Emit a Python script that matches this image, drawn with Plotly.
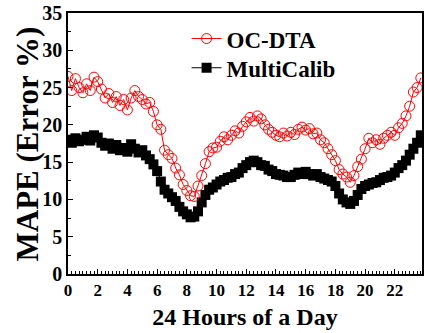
import plotly.graph_objects as go

hours = [i * 0.25 for i in range(96)]

oc_dta = [
    26.5, 24.6, 26.2, 25.0, 24.3, 25.5, 24.6, 26.4, 25.8, 24.8, 23.6, 24.2,
    23.0, 23.8, 22.6, 23.4, 22.0, 23.6, 24.6, 23.8, 23.4, 22.8, 23.0, 21.8,
    20.0, 19.4, 16.6, 16.0, 15.5, 14.2, 13.3, 12.0, 11.2, 10.5, 10.4, 11.8,
    13.2, 14.8, 16.4, 16.9, 17.0, 17.8, 18.4, 18.0, 18.6, 19.2, 18.9, 19.8,
    20.4, 21.0, 20.5, 21.2, 20.8, 20.0, 19.4, 19.0, 18.6, 18.4, 18.9, 18.5,
    19.0, 18.7, 19.4, 19.7, 19.3, 19.5, 18.8, 18.9, 18.0, 17.6, 16.8, 16.0,
    15.2, 14.0, 13.4, 13.0, 12.3, 13.2, 14.4, 15.4, 16.8, 18.2, 17.6, 18.0,
    17.4, 18.2, 18.6, 19.0, 18.6, 19.6, 20.2, 21.2, 22.5, 24.4, 25.0, 26.3,
]

multicalib = [
    18.0, 17.6, 18.2, 17.8, 18.0, 18.4, 17.9, 18.6, 18.3, 17.6, 17.2, 17.5,
    16.8, 17.3, 16.6, 16.9, 16.4, 17.4, 16.8, 16.3, 16.6, 15.9, 15.4, 14.7,
    13.8, 12.4, 11.3, 10.8, 10.3, 9.8, 9.0, 8.4, 8.0, 7.6, 7.7, 8.4,
    9.6, 10.6, 11.3, 11.6, 12.0, 12.4, 12.6, 12.9, 13.0, 13.4, 13.6, 14.2,
    14.6, 15.0, 15.2, 15.0, 14.6, 14.5, 14.0, 13.8, 13.4, 13.3, 13.2, 13.0,
    13.0, 13.3, 13.6, 13.4, 13.7, 13.4, 13.2, 13.4, 13.0, 12.8, 12.6, 12.4,
    11.8, 10.8, 10.0, 9.6, 9.4, 9.8, 10.6, 11.4, 11.8, 12.0, 12.2, 12.3,
    12.6, 12.9, 13.0, 13.2, 13.6, 14.2, 14.6, 15.2, 16.0, 16.8, 17.6, 18.6,
]

x_ticks = [0, 2, 4, 6, 8, 10, 12, 14, 16, 18, 20, 22]
y_ticks = [0, 5, 10, 15, 20, 25, 30, 35]

FONT = "Liberation Serif"

fig = go.Figure()
fig.add_trace(go.Scatter(
    x=hours, y=multicalib, name="<b>MultiCalib</b>", mode="lines+markers",
    line=dict(color="black", width=1),
    marker=dict(symbol="square", size=10, color="black"),
    legend="legend2", showlegend=True,
))
fig.add_trace(go.Scatter(
    x=hours, y=oc_dta, name="<b>OC-DTA</b>", mode="lines+markers",
    line=dict(color="red", width=1),
    marker=dict(symbol="circle-open", size=10, color="red", line=dict(width=1)),
    legend="legend", showlegend=True,
))

legend_common = dict(
    font=dict(family=FONT, size=23, color="black"),
    bgcolor="rgba(0,0,0,0)", borderwidth=0,
    xanchor="left", yanchor="middle", visible=True,
)

fig.update_layout(
    width=425, height=333,
    margin=dict(l=68, r=1, t=13, b=59),
    paper_bgcolor="white", plot_bgcolor="white",
    font=dict(family=FONT, color="black"),
    showlegend=True,
    legend=dict(x=0.335, y=0.902, **legend_common),
    legend2=dict(x=0.335, y=0.79, **legend_common),
    xaxis=dict(
        range=[0, 23.83], tickvals=x_ticks, ticktext=[f"<b>{v}</b>" for v in x_ticks],
        ticks="inside", ticklen=5, tickwidth=1, tickcolor="black",
        minor=dict(dtick=0.25, ticks="inside", ticklen=3, tickcolor="black"),
        showline=True, linecolor="black", linewidth=1.5, mirror=True,
        showgrid=False, zeroline=False,
        tickfont=dict(family=FONT, size=17),
        title=dict(text="<b>24 Hours of a Day</b>", font=dict(family=FONT, size=24), standoff=9),
    ),
    yaxis=dict(
        range=[0, 35], tickvals=y_ticks, ticktext=[f"<b>{v}</b>" for v in y_ticks],
        ticks="inside", ticklen=5, tickwidth=1, tickcolor="black",
        minor=dict(dtick=2.5, ticks="inside", ticklen=3, tickcolor="black"),
        showline=True, linecolor="black", linewidth=1.5, mirror=True,
        showgrid=False, zeroline=False,
        tickfont=dict(family=FONT, size=20),
    ),
    annotations=[dict(
        text="<b>MAPE (Error %)</b>", xref="paper", yref="paper",
        x=-0.113, y=0.5, xanchor="center", yanchor="middle", textangle=-90,
        showarrow=False, font=dict(family=FONT, size=31, color="black"),
    )],
)

fig.write_html("out.html")
